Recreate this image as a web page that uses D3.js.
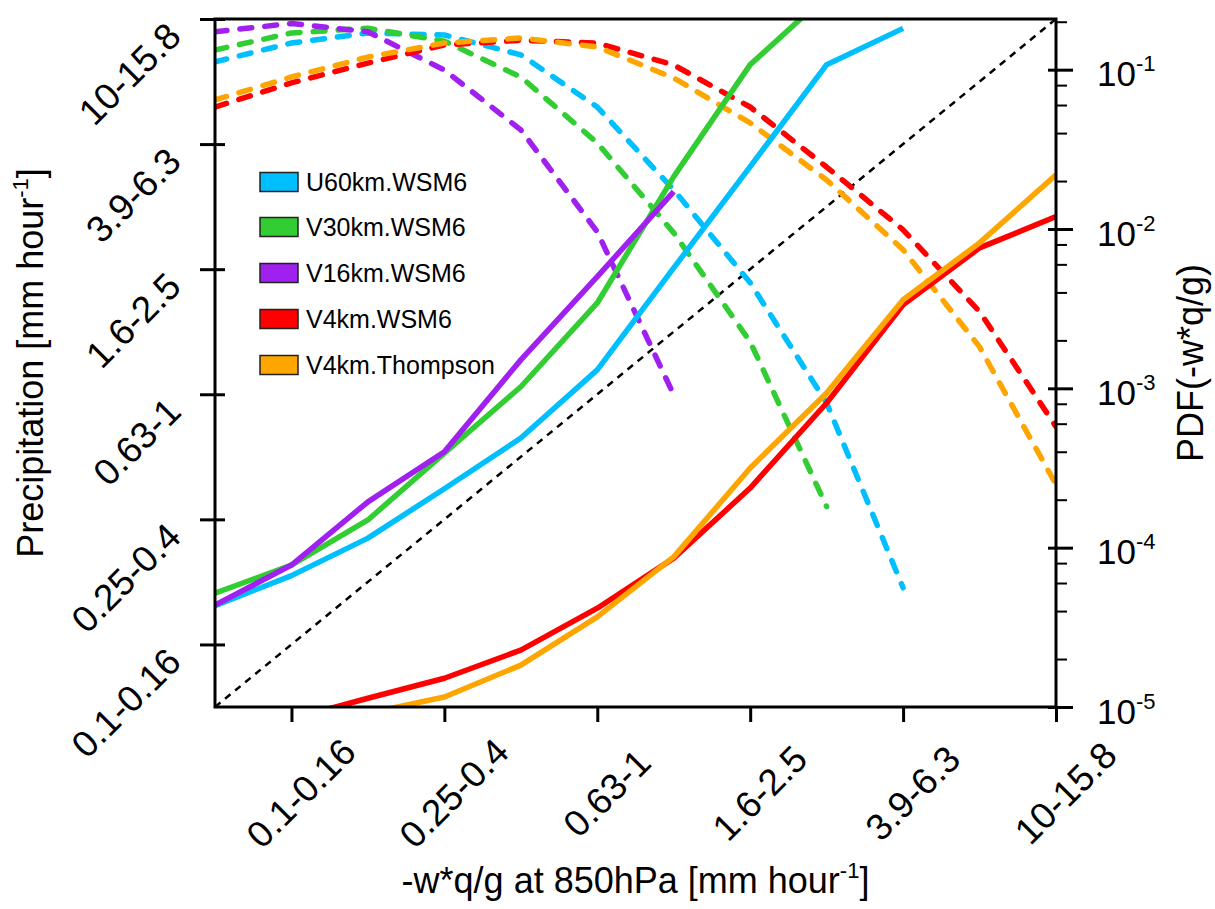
<!DOCTYPE html>
<html>
<head>
<meta charset="utf-8">
<script src="https://cdn.jsdelivr.net/npm/d3@7"></script>
<style>
  html, body { margin: 0; padding: 0; background: #fff; }
  svg { display: block; font-family: "Liberation Sans", Arial, Helvetica, sans-serif; }
</style>
</head>
<body>
<svg id="chart" width="1215" height="909"></svg>
<script>
// ---------- data ----------
const seriesNames = ["U60km.WSM6", "V30km.WSM6", "V16km.WSM6", "V4km.WSM6", "V4km.Thompson"];
const seriesColors = ["#00BFFF", "#32CD32", "#A020F0", "#FF0000", "#FFA500"];

// bin index 0..11 ; labelled bins on both category axes
const tickBins = [1, 3, 5, 7, 9, 11];
const tickLabels = ["0.1-0.16", "0.25-0.4", "0.63-1", "1.6-2.5", "3.9-6.3", "10-15.8"];

// precipitation (left axis, bin units) vs -w*q/g bin (solid lines); null = no value
const precipU60 = [1.62, 2.10, 2.70, 3.49, 4.30, 5.39, 7.02, 8.64, 10.27, 10.85];
const precipV30 = [1.82, 2.27, 2.99, 4.06, 5.12, 6.46, 8.48, 10.27, 11.38];
const precipV16 = [1.63, 2.27, 3.28, 4.08, 5.55, 6.88, 8.24];
const precipV4WSM6 = [null, -0.19, 0.14, 0.46, 0.91, 1.58, 2.38, 3.50, 4.86, 6.43, 7.34, 7.84];
const precipV4Thompson = [null, null, -0.10, 0.16, 0.67, 1.44, 2.40, 3.82, 5.02, 6.51, 7.42, 8.51];

// PDF of -w*q/g (right log axis, dashed lines)
const pdfU60 = [0.112, 0.147, 0.170, 0.165, 0.124, 0.0583, 0.0176, 0.0046, 8.1e-4, 5.6e-5];
const pdfV30 = [0.133, 0.170, 0.182, 0.151, 0.090, 0.0347, 0.00946, 0.00196, 1.81e-4];
const pdfV16 = [0.173, 0.195, 0.173, 0.0995, 0.0419, 0.0096, 9.1e-4];
const pdfV4WSM6 = [0.0583, 0.0826, 0.110, 0.143, 0.153, 0.147, 0.107, 0.0583, 0.0245, 0.00989, 0.00303, 5.75e-4];
const pdfV4Thompson = [0.0646, 0.090, 0.120, 0.147, 0.158, 0.139, 0.0887, 0.0463, 0.0203, 0.00741, 0.00182, 2.49e-4];

const pdfMajorTicks = [1e-5, 1e-4, 1e-3, 1e-2, 1e-1];
const pdfMinorTicks = [2e-5, 4e-5, 6e-5, 8e-5, 2e-4, 4e-4, 6e-4, 8e-4, 2e-3, 4e-3, 6e-3, 8e-3, 2e-2, 4e-2, 6e-2, 8e-2, 2e-1];

const precipSeries = [precipU60, precipV30, precipV16, precipV4WSM6, precipV4Thompson];
const pdfSeries = [pdfU60, pdfV30, pdfV16, pdfV4WSM6, pdfV4Thompson];

// ---------- layout ----------
const L = 215, R = 1056, T = 19, B = 707;
const svg = d3.select("#chart");

const x = d3.scaleLinear().domain([0, 11]).range([L, R]);
const yL = d3.scaleLinear().domain([0, 11]).range([B, T]);
const yR = d3.scaleLog().domain([1e-5, 0.208]).range([B, T]);

svg.append("defs").append("clipPath").attr("id", "clip")
  .append("rect").attr("x", L).attr("y", T).attr("width", R - L).attr("height", B - T);

const plot = svg.append("g").attr("clip-path", "url(#clip)");

// 1:1 dotted diagonal
plot.append("line")
  .attr("x1", x(0)).attr("y1", yL(0)).attr("x2", x(11)).attr("y2", yL(11))
  .attr("stroke", "#000").attr("stroke-width", 2.5).attr("stroke-dasharray", "7,6");

const lineL = d3.line().defined(d => d != null).x((d, i) => x(i)).y(d => yL(d));
const lineR = d3.line().defined(d => d != null).x((d, i) => x(i)).y(d => yR(d));

pdfSeries.forEach((s, k) => {
  plot.append("path").datum(s).attr("d", lineR)
    .attr("fill", "none").attr("stroke", seriesColors[k]).attr("stroke-width", 5.5)
    .attr("stroke-linecap", "round").attr("stroke-linejoin", "round")
    .attr("stroke-dasharray", "12,13");
});
precipSeries.forEach((s, k) => {
  plot.append("path").datum(s).attr("d", lineL)
    .attr("fill", "none").attr("stroke", seriesColors[k]).attr("stroke-width", 5.5)
    .attr("stroke-linejoin", "round");
});

// ---------- axes ----------
function styleAxis(g) {
  g.select(".domain").remove();
  g.selectAll(".tick line").attr("stroke", "#000").attr("stroke-width", 3);
}

// left axis
const gl = svg.append("g").attr("transform", `translate(${L},0)`)
  .call(d3.axisLeft(yL).tickValues(tickBins).tickSize(15).tickSizeOuter(0)
    .tickFormat((d, i) => tickLabels[i]));
styleAxis(gl);
gl.selectAll(".tick text")
  .attr("x", null).attr("dy", null)
  .attr("text-anchor", "end")
  .attr("transform", "translate(-32,19) rotate(-45)")
  .attr("font-size", 37).attr("fill", "#000");
const glIn = svg.append("g").attr("transform", `translate(${L},0)`)
  .call(d3.axisLeft(yL).tickValues(tickBins).tickSize(-10).tickSizeOuter(0).tickFormat(""));
styleAxis(glIn);

// bottom axis
const gb = svg.append("g").attr("transform", `translate(0,${B})`)
  .call(d3.axisBottom(x).tickValues(tickBins).tickSize(15).tickSizeOuter(0)
    .tickFormat((d, i) => tickLabels[i]));
styleAxis(gb);
gb.selectAll(".tick text")
  .attr("y", null).attr("dy", "0.35em")
  .attr("text-anchor", "middle")
  .attr("transform", "translate(9,86) rotate(-45)")
  .attr("font-size", 37).attr("fill", "#000");

// right axis (log PDF)
const gr = svg.append("g").attr("transform", `translate(${R},0)`)
  .call(d3.axisRight(yR).tickValues(pdfMajorTicks).tickSize(17).tickSizeOuter(0).tickFormat(""));
styleAxis(gr);
gr.selectAll(".tick text").each(function (d) {
  const t = d3.select(this);
  t.attr("x", 41).attr("y", 16).attr("dy", null).attr("text-anchor", "start")
    .attr("font-size", 35).attr("fill", "#000");
  t.append("tspan").text("10");
  t.append("tspan").attr("dy", -15).attr("font-size", 22).text(String(Math.round(Math.log10(d))));
});
const grIn = svg.append("g").attr("transform", `translate(${R},0)`)
  .call(d3.axisRight(yR).tickValues(pdfMajorTicks).tickSize(-8).tickSizeOuter(0).tickFormat(""));
styleAxis(grIn);
const grMin = svg.append("g").attr("transform", `translate(${R},0)`)
  .call(d3.axisRight(yR).tickValues(pdfMinorTicks).tickSize(11).tickSizeOuter(0).tickFormat(""));
styleAxis(grMin);
grMin.selectAll(".tick line").attr("stroke-width", 2);

// frame
svg.append("rect").attr("x", L).attr("y", T).attr("width", R - L).attr("height", B - T)
  .attr("fill", "none").attr("stroke", "#000").attr("stroke-width", 3);

// ---------- titles ----------
const xt = svg.append("text").attr("x", (L + R) / 2).attr("y", 893)
  .attr("text-anchor", "middle").attr("font-size", 36).attr("fill", "#000");
xt.append("tspan").text("-w*q/g at 850hPa [mm hour");
xt.append("tspan").attr("dy", -15).attr("font-size", 22).text("-1");
xt.append("tspan").attr("dy", 15).text("]");

const yt = svg.append("text").attr("transform", `translate(43,${(T + B) / 2}) rotate(-90)`)
  .attr("text-anchor", "middle").attr("font-size", 36).attr("fill", "#000");
yt.append("tspan").text("Precipitation [mm hour");
yt.append("tspan").attr("dy", -15).attr("font-size", 22).text("-1");
yt.append("tspan").attr("dy", 15).text("]");

svg.append("text").attr("transform", `translate(1203,${(T + B) / 2}) rotate(-90)`)
  .attr("text-anchor", "middle").attr("font-size", 36).attr("fill", "#000")
  .text("PDF(-w*q/g)");

// ---------- legend ----------
const legRows = [182, 227, 273, 319, 365];
const leg = svg.append("g");
seriesNames.forEach((n, k) => {
  leg.append("rect").attr("x", 260).attr("y", legRows[k] - 9.5).attr("width", 38).attr("height", 19)
    .attr("fill", seriesColors[k]).attr("stroke", "#222").attr("stroke-width", 1.5);
  leg.append("text").attr("x", 306).attr("y", legRows[k] + 9).attr("font-size", 25)
    .attr("fill", "#000").text(n);
});
</script>
</body>
</html>
